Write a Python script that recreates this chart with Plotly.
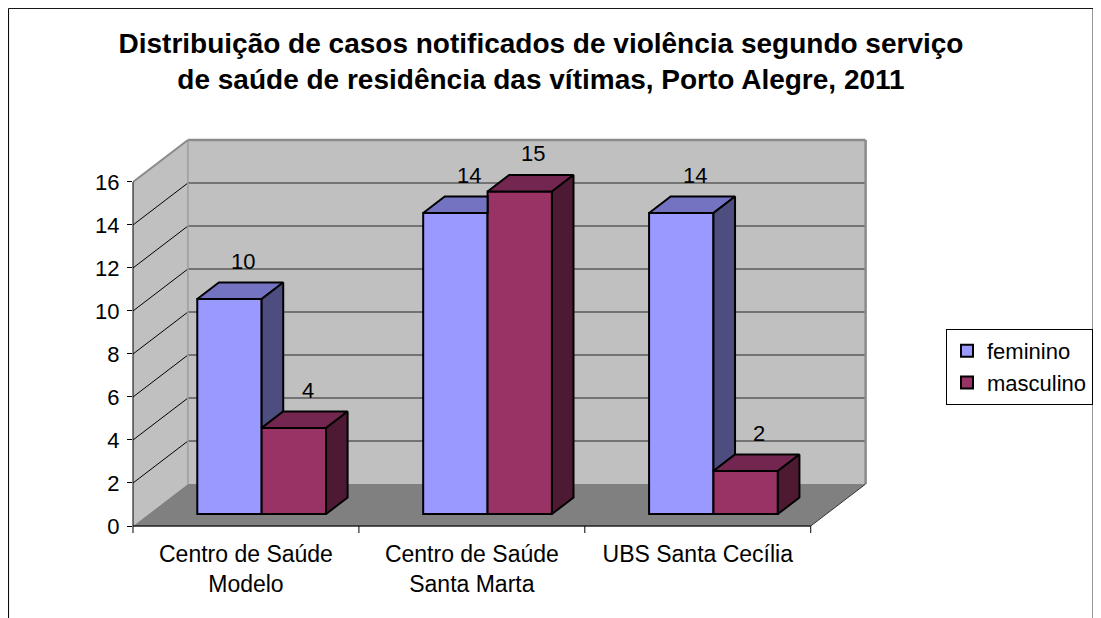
import plotly.graph_objects as go

# ---------------- data ----------------
categories = ["Centro de Saúde Modelo", "Centro de Saúde Santa Marta", "UBS Santa Cecília"]
tick_labels = ["Centro de Saúde<br>Modelo", "Centro de Saúde<br>Santa Marta", "UBS Santa Cecília"]
series_names = ["feminino", "masculino"]
feminino = [10, 14, 14]
masculino = [4, 15, 2]
y_ticks = [0, 2, 4, 6, 8, 10, 12, 14, 16]
title_text = ("Distribuição de casos notificados de violência segundo serviço<br>"
              "de saúde de residência das vítimas, Porto Alegre, 2011")

# ---------------- geometry / style ----------------
W, H = 1101, 618
OFF = 8.0         # page margin of the browser body
FONT = "Liberation Sans, Arial, sans-serif"
AX_L = 133.0 - OFF   # figure pixel of x = -0.5
AX_B = 526.0 - OFF   # figure pixel of y = 0
SX = 226.0        # px per category unit
SY = 21.5         # px per value unit
WALL_DX = 0.243   # depth offset of back wall (x units)
WALL_DY = 1.95    # depth offset of back wall (y units)
YMAX = 16
PAD_R = 0.015
PAD_T = 0.14
BAR_W = 0.285
F0, F1 = 0.286, 0.679          # depth fractions of bar front / back
FX, FY = F0 * WALL_DX, F0 * WALL_DY
TDX, TDY = (F1 - F0) * WALL_DX, (F1 - F0) * WALL_DY
MIDX = (F0 + F1) / 2 * WALL_DX

colors_front = ["#9999FF", "#993366"]
colors_top = ["#7373C2", "#732650"]
colors_side = ["#4D4D80", "#4D1933"]

ncat = len(categories)
x_lo = -0.5
x_hi = ncat - 0.5 + WALL_DX + PAD_R
y_lo = 0.0
y_hi = YMAX + WALL_DY + PAD_T
plot_w = (x_hi - x_lo) * SX
plot_h = (y_hi - y_lo) * SY
m_l = AX_L
m_r = W - AX_L - plot_w
m_b = H - AX_B
m_t = AX_B - plot_h


def pxx(p):
    """screen pixel -> paper x"""
    return (p - OFF - m_l) / plot_w


def pxy(p):
    """screen pixel -> paper y"""
    return (H - m_b - (p - OFF)) / plot_h


def ypaper(v):
    return (v - y_lo) / (y_hi - y_lo)


fig = go.Figure()

series_vals = [feminino, masculino]

# front faces as real bars
for i, (name, vals) in enumerate(zip(series_names, series_vals)):
    xs = [c + FX + (i - 0.5) * BAR_W for c in range(ncat)]
    fig.add_trace(go.Bar(
        x=xs, y=vals, base=[FY] * ncat, width=BAR_W, name=name,
        marker=dict(color=colors_front[i], line=dict(color="black", width=2)),
        hoverinfo="skip",
    ))


# top and side faces (computed from the data)
def poly(xs, ys, color):
    fig.add_trace(go.Scatter(
        x=xs + [xs[0]], y=ys + [ys[0]], mode="lines", fill="toself",
        fillcolor=color, line=dict(color="black", width=2),
        showlegend=False, hoverinfo="skip"))


for c in range(ncat):
    for i, vals in enumerate(series_vals):
        v = vals[c]
        xl = c + FX + (i - 1) * BAR_W
        xr = xl + BAR_W
        top = FY + v
        nb = series_vals[i + 1][c] if i + 1 < len(series_vals) else None
        # top face
        if nb is not None and nb > v:
            poly([xl, xr, xr, xl + TDX], [top, top, top + TDY, top + TDY], colors_top[i])
        else:
            poly([xl, xr, xr + TDX, xl + TDX], [top, top, top + TDY, top + TDY], colors_top[i])
        # side face
        low = 0 if nb is None else nb
        if nb is None or nb < v:
            poly([xr, xr + TDX, xr + TDX, xr],
                 [top, top + TDY, FY + low + TDY, FY + low], colors_side[i])

# data labels
annotations = []
for i, vals in enumerate(series_vals):
    for c, v in enumerate(vals):
        xc = c + (i - 0.5) * BAR_W + MIDX + 0.013
        annotations.append(dict(x=xc, y=v + 2.3, xref="x", yref="y", text=str(v),
                                showarrow=False, font=dict(size=22, color="black", family=FONT),
                                xanchor="center", yanchor="middle"))

# walls, floor, gridlines
shapes = []
bx0, bx1 = x_lo + WALL_DX, ncat - 0.5 + WALL_DX
shapes.append(dict(type="rect", xref="x", yref="y", x0=bx0, x1=bx1, y0=WALL_DY, y1=YMAX + WALL_DY,
                   fillcolor="#C0C0C0", line=dict(width=0), layer="below"))
shapes.append(dict(type="path", xref="x", yref="y",
                   path=f"M{x_lo},0 L{x_lo},{YMAX} L{bx0},{YMAX + WALL_DY} L{bx0},{WALL_DY} Z",
                   fillcolor="#C0C0C0", line=dict(width=0), layer="below"))
shapes.append(dict(type="path", xref="x", yref="y",
                   path=f"M{x_lo},0 L{bx0},{WALL_DY} L{bx1},{WALL_DY} L{ncat - 0.5},0 Z",
                   fillcolor="#808080", line=dict(width=0), layer="below"))
for v in y_ticks[1:-1]:
    shapes.append(dict(type="line", xref="x", yref="y", x0=bx0, x1=bx1, y0=v + WALL_DY, y1=v + WALL_DY,
                       line=dict(color="#5a5a5a", width=1.5), layer="below"))
    shapes.append(dict(type="line", xref="x", yref="y", x0=x_lo, x1=bx0, y0=v, y1=v + WALL_DY,
                       line=dict(color="black", width=1), layer="below"))
# wall borders
shapes.append(dict(type="line", xref="x", yref="y", x0=bx0, x1=bx1, y0=YMAX + WALL_DY, y1=YMAX + WALL_DY,
                   line=dict(color="#8a8a8a", width=2.5), layer="below"))
shapes.append(dict(type="line", xref="x", yref="y", x0=bx1, x1=bx1, y0=WALL_DY, y1=YMAX + WALL_DY,
                   line=dict(color="#8a8a8a", width=2.5), layer="below"))
shapes.append(dict(type="line", xref="x", yref="y", x0=bx0, x1=bx0, y0=WALL_DY, y1=YMAX + WALL_DY,
                   line=dict(color="#9c9c9c", width=1.5), layer="below"))
shapes.append(dict(type="line", xref="x", yref="y", x0=x_lo, x1=bx0, y0=YMAX, y1=YMAX + WALL_DY,
                   line=dict(color="#8a8a8a", width=2), layer="below"))
shapes.append(dict(type="line", xref="x", yref="y", x0=ncat - 0.5, x1=bx1, y0=0, y1=WALL_DY,
                   line=dict(color="#333333", width=1), layer="below"))
# axis lines & category ticks
shapes.append(dict(type="line", xref="x", yref="paper", x0=x_lo, x1=ncat - 0.5, y0=0, y1=0,
                   line=dict(color="#202020", width=1.5)))
shapes.append(dict(type="line", xref="paper", yref="paper", x0=0, x1=0, y0=-7 / plot_h, y1=ypaper(YMAX),
                   line=dict(color="black", width=1)))
for k in range(1, ncat + 1):
    shapes.append(dict(type="line", xref="x", yref="paper", x0=k - 0.5, x1=k - 0.5, y0=0, y1=-7 / plot_h,
                       line=dict(color="black", width=1)))
# outer frame
shapes.append(dict(type="rect", xref="paper", yref="paper", x0=pxx(8.5), x1=pxx(1093.5),
                   y0=pxy(660), y1=pxy(8.5), line=dict(color="black", width=1), layer="below"))

fig.update_layout(
    width=W, height=H,
    margin=dict(l=m_l, r=m_r, t=m_t, b=m_b, pad=0),
    paper_bgcolor="white", plot_bgcolor="white",
    barmode="overlay",
    font=dict(family=FONT, size=22, color="black"),
    title=dict(text="<b>" + title_text + "</b>", x=(541 - OFF) / W, xanchor="center",
               y=1 - 45 / H, yanchor="middle", xref="container", yref="container",
               font=dict(size=28, family=FONT, color="black")),
    xaxis=dict(range=[x_lo, x_hi], tickvals=list(range(ncat)), ticktext=tick_labels,
               ticks="", showgrid=False, zeroline=False, showline=False,
               tickfont=dict(size=23, family=FONT, color="black"), ticklabelstandoff=12),
    yaxis=dict(range=[y_lo, y_hi], tickvals=y_ticks, ticks="outside", ticklen=5, tickwidth=1,
               tickcolor="black", showgrid=False, zeroline=False, showline=False,
               tickfont=dict(size=22, family=FONT, color="black"), ticklabelstandoff=3),
    legend=dict(x=(1093 - OFF) / W, xanchor="right", xref="container",
                y=1 - (367 - OFF) / H, yanchor="middle", yref="container",
                bordercolor="black", borderwidth=1, bgcolor="white",
                font=dict(size=22, family=FONT, color="black"), tracegroupgap=0),
    shapes=shapes,
    annotations=annotations,
    showlegend=True,
)

fig.write_html("out.html")
